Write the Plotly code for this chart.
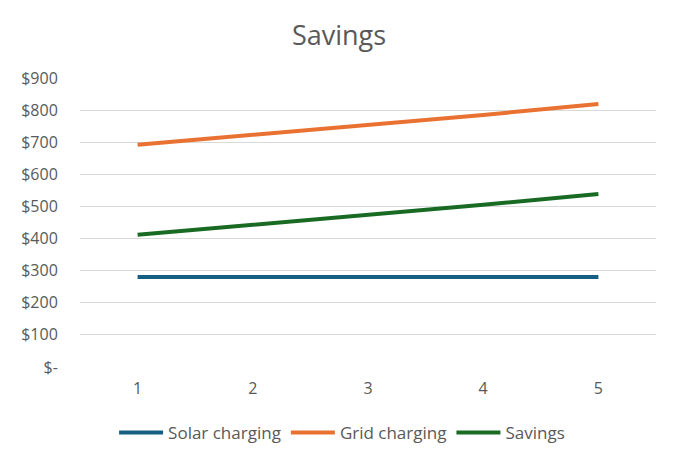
import plotly.graph_objects as go

years = [1, 2, 3, 4, 5]
solar_charging = [280, 280, 280, 280, 280]
grid_charging = [692, 722, 753, 785, 819]
savings = [412, 442, 473, 505, 539]

y_ticks = [0, 100, 200, 300, 400, 500, 600, 700, 800, 900]
y_labels = ["$-", "$100", "$200", "$300", "$400", "$500", "$600", "$700", "$800", "$900"]

grey = "#595959"

fig = go.Figure()
fig.add_trace(go.Scatter(x=years, y=solar_charging, mode="lines", name="Solar charging",
                         line=dict(color="#156082", width=4)))
fig.add_trace(go.Scatter(x=years, y=grid_charging, mode="lines", name="Grid charging",
                         line=dict(color="#E97132", width=4)))
fig.add_trace(go.Scatter(x=years, y=savings, mode="lines", name="Savings",
                         line=dict(color="#196B24", width=4)))

# page has an 8px body margin, so everything is placed 8px up/left
fig.update_layout(
    width=679, height=464,
    margin=dict(l=72, r=31, t=70, b=105),
    paper_bgcolor="white", plot_bgcolor="white",
    font=dict(family="Open Sans", color=grey, size=16),
    title=dict(text="Savings", x=0.4875, xanchor="center", y=0.94, yanchor="middle",
               font=dict(size=27, color=grey)),
    showlegend=True,
    legend=dict(orientation="h", x=0.455, xanchor="center", y=-0.228, yanchor="middle",
                font=dict(size=17, color=grey), itemwidth=44, tracegroupgap=0),
    xaxis=dict(type="category", range=[-0.5, 4.5], showgrid=False, showline=False,
               zeroline=False, ticks="outside", ticklen=7, tickcolor="rgba(0,0,0,0)",
               tickfont=dict(size=16, color=grey)),
    yaxis=dict(range=[0, 900], tickvals=y_ticks, ticktext=y_labels, showgrid=True,
               gridcolor="#D9D9D9", gridwidth=1, zeroline=False, showline=False,
               ticks="outside", ticklen=18, tickcolor="rgba(0,0,0,0)",
               tickfont=dict(size=16, color=grey)),
)

fig.write_html("out.html")
